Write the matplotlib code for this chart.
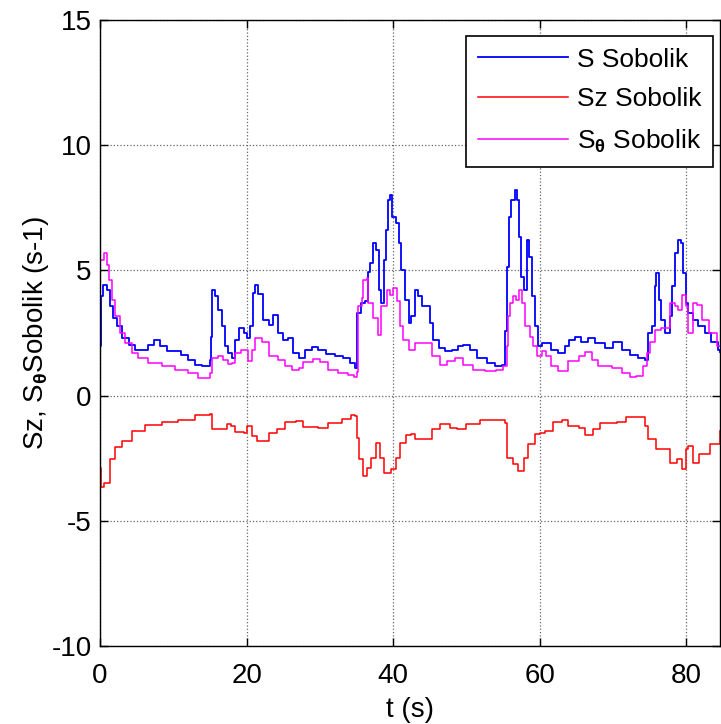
import matplotlib
matplotlib.use('Agg')
from matplotlib import pyplot as plt

plt.rcParams['font.family'] = ['Liberation Sans', 'DejaVu Sans']
plt.rcParams['mathtext.fontset'] = 'custom'
plt.rcParams['mathtext.rm'] = 'Liberation Sans'
plt.rcParams['mathtext.bf'] = 'Liberation Sans:bold'
plt.rcParams['axes.unicode_minus'] = False

# S Sobolik (blue)
s_t = [0, 0.1, 0.45, 0.9, 1.4, 1.8, 2.3, 3.0, 3.9, 4.8, 5.7, 6.6, 7.4, 8.2, 9.1, 10.2, 11.1, 12.0,
       13.0, 13.9, 14.6, 15.0, 15.2, 15.3, 15.7, 16.1, 16.6, 17.1, 17.5, 18.0, 18.4, 18.9, 19.6,
       20.0, 20.5, 20.9, 21.2, 21.6, 22.3, 23.0, 23.6, 24.3, 25.0, 25.7, 26.4, 27.1, 28.0, 28.9,
       29.8, 30.9, 32.1, 33.2, 34.1, 34.8, 35.1, 35.6, 36.2, 36.6, 36.8, 37.3, 37.7, 38.1, 38.4,
       38.7, 39.0, 39.3, 39.6, 39.9, 40.4, 40.8, 41.1, 41.6, 42.1, 42.5, 43.0, 43.4, 43.9, 44.6,
       45.0, 45.5, 46.2, 47.1, 48.0, 48.9, 49.6, 50.5, 51.4, 52.8, 53.9, 54.8, 55.3, 55.5, 55.8,
       56.1, 56.6, 56.9, 57.2, 57.4, 57.8, 58.2, 58.6, 58.9, 59.3, 59.8, 60.3, 60.9, 61.6, 62.5,
       63.4, 64.0, 64.8, 65.7, 66.6, 67.5, 68.9, 70.0, 71.2, 72.3, 73.4, 74.4, 74.8, 75.3, 75.7,
       75.9, 76.3, 76.6, 77.1, 77.8, 78.1, 78.5, 78.9, 79.3, 79.5, 79.9, 80.3, 80.9, 81.6, 82.5,
       83.4, 84.3, 84.6]
s_val = [2.0, 3.96, 4.42, 4.22, 3.56, 3.10, 2.76, 2.30, 2.03, 1.83, 1.83, 2.03, 2.23, 1.99, 1.77,
         1.77, 1.63, 1.43, 1.24, 1.17, 1.17, 1.43, 2.36, 4.22, 3.96, 3.43, 2.76, 1.97, 1.70, 1.50,
         2.23, 2.70, 2.50, 2.30, 2.76, 4.09, 4.42, 4.05, 3.03, 2.83, 3.23, 2.50, 2.23, 2.30, 1.70,
         1.50, 1.83, 1.94, 1.83, 1.67, 1.57, 1.50, 1.30, 1.10, 3.29, 3.69, 3.76, 4.95, 5.29, 6.08,
         5.82, 4.22, 3.69, 5.42, 6.61, 7.81, 8.0, 7.14, 6.88, 6.08, 5.02, 3.82, 2.90, 3.16, 4.22,
         3.96, 3.56, 3.56, 2.90, 2.23, 1.90, 1.77, 1.83, 1.97, 2.03, 1.83, 1.50, 1.30, 1.17, 1.24,
         2.56, 5.15, 7.14, 7.81, 8.21, 7.81, 6.35, 4.75, 4.22, 6.22, 5.55, 3.96, 2.76, 1.97, 2.10,
         2.10, 1.83, 1.70, 1.97, 2.23, 2.36, 2.16, 2.30, 2.10, 1.90, 2.16, 1.83, 1.63, 1.50, 1.43,
         2.50, 2.76, 4.36, 4.89, 3.82, 3.03, 2.50, 3.16, 4.36, 5.69, 6.22, 6.08, 4.89, 3.69, 3.29,
         3.03, 2.76, 2.50, 2.16, 1.83, 1.75]

# Sz Sobolik (red)
sz_t = [0, 0.2, 0.5, 1.4, 2.0, 3.0, 4.3, 6.1, 8.4, 10.7, 13.0, 15.0, 15.3, 16.4, 17.3, 17.9, 18.4,
        19.6, 20.1, 20.7, 21.4, 23.0, 24.1, 25.2, 26.8, 27.7, 29.8, 31.1, 33.0, 34.3, 34.8, 35.0,
        35.4, 35.9, 36.4, 37.0, 37.7, 38.2, 38.8, 39.7, 40.4, 41.0, 41.8, 42.5, 43.0, 44.3, 45.3,
        46.4, 47.7, 48.7, 50.0, 51.8, 53.7, 55.3, 55.6, 56.4, 57.1, 57.8, 58.4, 59.3, 60.0, 60.7,
        61.8, 63.0, 63.9, 65.3, 66.2, 67.3, 68.2, 70.5, 71.8, 73.7, 74.4, 74.8, 75.9, 77.3, 77.8,
        78.7, 79.4, 79.9, 80.3, 80.9, 81.8, 83.2, 84.6]
sz_val = [-2.9, -3.67, -3.5, -2.55, -2.07, -1.82, -1.42, -1.16, -1.05, -0.96, -0.76, -0.72, -1.33,
          -1.33, -1.13, -1.2, -1.46, -1.49, -1.2, -1.6, -1.82, -1.49, -1.33, -1.06, -1.03, -1.25,
          -1.29, -1.09, -0.93, -0.78, -0.8, -1.69, -2.55, -3.21, -2.88, -2.48, -1.88, -2.48, -3.08,
          -2.95, -2.48, -1.88, -1.59, -1.55, -1.75, -1.75, -1.35, -1.13, -1.29, -1.35, -1.15, -0.98,
          -0.98, -1.09, -2.48, -2.75, -3.02, -2.48, -1.95, -1.55, -1.49, -1.42, -1.06, -0.96, -1.22,
          -1.29, -1.59, -1.35, -1.09, -1.06, -0.86, -0.86, -1.22, -1.75, -2.15, -2.15, -2.68, -2.55,
          -2.95, -2.15, -2.02, -2.68, -2.35, -1.95, -1.42]

# S_theta Sobolik (magenta)
sth_t = [0, 0.5, 0.9, 1.2, 1.6, 2.0, 2.7, 3.4, 4.3, 5.2, 6.6, 8.4, 10.2, 12.0, 13.4, 14.6, 15.0,
         15.3, 16.1, 16.8, 17.5, 18.0, 18.4, 19.3, 20.2, 20.7, 21.1, 22.1, 23.0, 24.3, 25.2, 26.2,
         27.1, 27.7, 29.1, 30.0, 31.1, 32.5, 33.9, 34.7, 35.0, 35.2, 35.7, 35.9, 36.4, 36.6, 37.3,
         38.0, 38.4, 39.1, 39.6, 40.0, 40.5, 40.9, 41.4, 42.1, 43.0, 44.3, 45.3, 46.4, 47.3, 48.4,
         49.6, 50.9, 52.5, 54.1, 55.0, 55.5, 55.7, 55.9, 56.4, 56.8, 57.2, 57.6, 58.0, 58.7, 59.1,
         59.6, 60.3, 60.9, 61.6, 62.5, 63.9, 65.3, 66.2, 67.1, 68.0, 69.8, 71.2, 72.3, 73.2, 74.1,
         74.6, 75.0, 75.7, 76.6, 77.3, 77.8, 78.5, 78.9, 79.4, 79.9, 80.3, 80.9, 81.4, 82.1, 83.1,
         84.2, 84.7]
sth_val = [5.42, 5.69, 5.22, 4.62, 3.82, 3.16, 2.50, 2.10, 1.70, 1.50, 1.30, 1.20, 1.04, 0.90, 0.70,
           0.70, 0.90, 1.50, 1.57, 1.44, 1.27, 1.32, 1.70, 1.83, 1.37, 1.83, 2.30, 2.16, 1.57, 1.43,
           1.17, 1.04, 1.10, 1.33, 1.46, 1.33, 1.04, 0.90, 0.84, 0.74, 0.96, 3.56, 3.89, 4.62, 4.68,
           3.69, 3.10, 2.43, 3.56, 4.22, 4.02, 4.29, 3.76, 2.76, 2.23, 1.83, 2.10, 2.10, 1.57, 1.24,
           1.37, 1.50, 1.24, 1.04, 0.97, 1.04, 1.17, 1.97, 3.16, 3.69, 3.96, 3.82, 4.22, 3.69, 2.76,
           2.36, 1.97, 1.57, 1.77, 1.57, 1.17, 0.97, 1.37, 1.57, 1.73, 1.44, 1.17, 1.10, 0.90, 0.74,
           0.80, 1.17, 1.70, 2.16, 2.63, 2.70, 2.70, 3.69, 3.56, 3.43, 4.02, 3.56, 2.50, 3.69, 3.62,
           3.03, 2.50, 1.97, 1.57]

x_ticks = [0, 20, 40, 60, 80]
y_ticks = [-10, -5, 0, 5, 10, 15]

fig = plt.figure(figsize=(7.21, 7.24), dpi=100)
ax = fig.add_axes([100 / 721, 1 - 646 / 724, 620 / 721, 626 / 724])

ax.plot(s_t, s_val, color='#0000ff', lw=1.3, drawstyle='steps-post', label='S Sobolik')
ax.plot(sz_t, sz_val, color='#ff0000', lw=1.1, drawstyle='steps-post', label='Sz Sobolik')
ax.plot(sth_t, sth_val, color='#ff00ff', lw=1.1, drawstyle='steps-post',
        label=r'S$_{\mathbf{\theta}}$ Sobolik')

ax.set_xlim(0, 84.6)
ax.set_ylim(-10, 15)
ax.set_xticks(x_ticks)
ax.set_yticks(y_ticks)

# matlab look: inward ticks all round, dotted grid
ax.tick_params(direction='in', top=True, right=True, length=6, width=1, labelsize=20)
ax.tick_params(axis='x', pad=12)
ax.tick_params(axis='y', pad=6)
ax.grid(True, linestyle=':', color='#666666', linewidth=0.9)
for sp in ax.spines.values():
    sp.set_linewidth(1.0)

ax.set_xlabel('t (s)', fontsize=20, labelpad=6)
ax.set_ylabel(r'Sz, S$_{\mathbf{\theta}}$Sobolik (s-1)', fontsize=20, labelpad=0)

leg = ax.legend(loc='upper right', bbox_to_anchor=(0.989, 0.975), borderaxespad=0,
                fontsize=19, handlelength=3.4, handletextpad=0.35, labelspacing=0.6,
                fancybox=False, framealpha=1, edgecolor='black', borderpad=0.45)
leg.get_frame().set_linewidth(1.2)

plt.savefig('out.png', dpi=100)
